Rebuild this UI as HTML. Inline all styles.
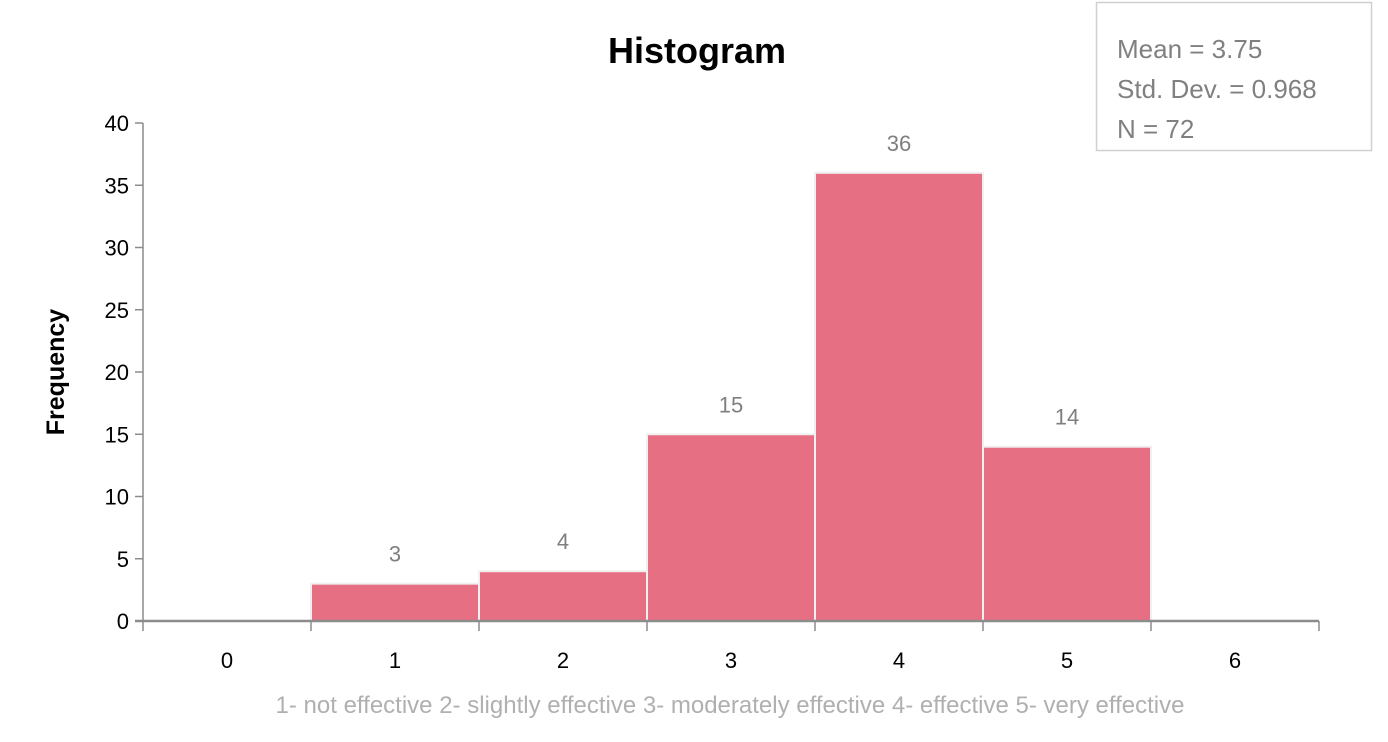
<!DOCTYPE html>
<html><head><meta charset="utf-8"><style>
html,body{margin:0;padding:0;background:#fff;}
svg{display:block;font-family:"Liberation Sans",sans-serif;}
</style></head><body>
<svg id="chart" width="1388" height="742" viewBox="0 0 1388 742">
<text x="697" y="63" text-anchor="middle" font-size="36" font-weight="bold" fill="#000">Histogram</text>
<g>
<rect x="1096.5" y="2.5" width="275" height="148" fill="#fff" stroke="#d0d0d0" stroke-width="1.5"/>
<text x="1117" y="58" font-size="26" fill="#808080">Mean = 3.75</text>
<text x="1117" y="98" font-size="26" fill="#808080">Std. Dev. = 0.968</text>
<text x="1117" y="138" font-size="26" fill="#808080">N = 72</text>
</g>
<text transform="translate(64,372) rotate(-90)" text-anchor="middle" font-size="25" font-weight="bold" fill="#000">Frequency</text>
<text x="730" y="713" text-anchor="middle" font-size="24" fill="#b0b0b0">1- not effective 2- slightly effective 3- moderately effective 4- effective 5- very effective</text>
<g id="plot"></g>
</svg>
<script>
const categories = [0, 1, 2, 3, 4, 5, 6];
const frequencies = [0, 3, 4, 15, 36, 14, 0];
const yTicks = [0, 5, 10, 15, 20, 25, 30, 35, 40];

const X0 = 143, SLOT = 168, Y0 = 621, YTOP = 123, YMAX = 40;
function xPos(i){ return X0 + i * SLOT; }
function yPos(v){ return Y0 - (v / YMAX) * (Y0 - YTOP); }

const NS = "http://www.w3.org/2000/svg";
const g = document.getElementById("plot");
function mk(tag, attrs){ const e = document.createElementNS(NS, tag); for (const k in attrs) e.setAttribute(k, attrs[k]); g.appendChild(e); return e; }

// bars
frequencies.forEach((v, i) => {
  if (v <= 0) return;
  const r = mk("rect", {x: xPos(i), y: yPos(v), width: SLOT, height: Y0 - yPos(v), fill: "#e76f84", stroke: "#f0f0f0", "stroke-width": 2});
  
  
  const t = mk("text", {x: xPos(i) + SLOT / 2, y: yPos(v) - 22, "text-anchor": "middle", "font-size": 22, fill: "#7f7f7f"});
  t.textContent = v;
  
  
});

// y axis
const ya = mk("line", {x1: X0, y1: YTOP, x2: X0, y2: Y0, stroke: "#8c8c8c", "stroke-width": 1.5});


yTicks.forEach(v => {
  const tk = mk("line", {x1: X0 - 8, y1: yPos(v), x2: X0, y2: yPos(v), stroke: "#8c8c8c", "stroke-width": 1.5});
  
  
  const t = mk("text", {x: X0 - 14, y: yPos(v) + 8, "text-anchor": "end", "font-size": 22, fill: "#000"});
  t.textContent = v;
  
  
});

// x axis
const xa = mk("line", {x1: X0 - 8, y1: Y0, x2: xPos(categories.length), y2: Y0, stroke: "#8c8c8c", "stroke-width": 2.5});


for (let i = 0; i <= categories.length; i++) {
  const tk = mk("line", {x1: xPos(i), y1: Y0, x2: xPos(i), y2: Y0 + 10, stroke: "#8c8c8c", "stroke-width": 1.5});
  
  
}
categories.forEach((c, i) => {
  const t = mk("text", {x: xPos(i) + SLOT / 2, y: 668, "text-anchor": "middle", "font-size": 22, fill: "#000"});
  t.textContent = c;
  
  
});
</script>
</body></html>
